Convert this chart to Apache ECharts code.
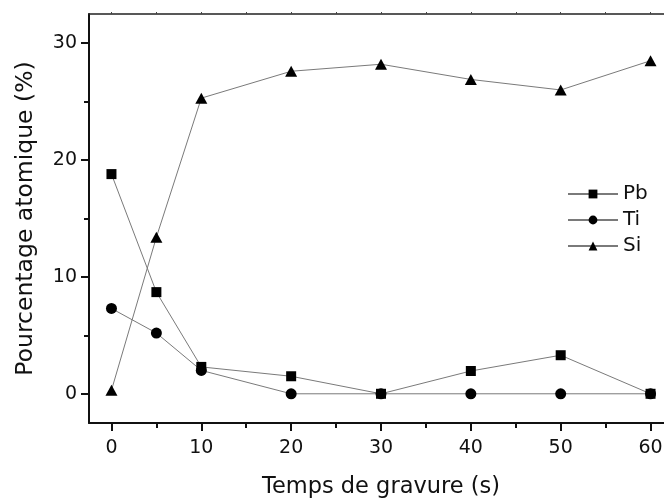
<!DOCTYPE html>
<html>
<head>
<meta charset="utf-8">
<script src="https://cdn.jsdelivr.net/npm/echarts@6/dist/echarts.min.js"></script>
<style>
html,body{margin:0;padding:0;background:#fff;}
#chart{width:664px;height:502px;}
</style>
</head>
<body>
<div id="chart"></div>
<script>
var times = [0, 5, 10, 20, 30, 40, 50, 60];
var pb = [18.8, 8.7, 2.3, 1.5, 0, 1.95, 3.3, 0];
var ti = [7.3, 5.2, 2.0, 0, 0, 0, 0, 0];
var si = [0.3, 13.4, 25.3, 27.6, 28.2, 26.9, 26.0, 28.5];
var xMajor = [0, 10, 20, 30, 40, 50, 60];
var xMinor = [5, 15, 25, 35, 45, 55];
var yMajor = [0, 10, 20, 30];
var yMinor = [5, 15, 25];
var seriesNames = ['Pb', 'Ti', 'Si'];
var xName = 'Temps de gravure (s)';
var yName = 'Pourcentage atomique (%)';

function pairs(vals) { return times.map(function (t, i) { return [t, vals[i]]; }); }

var FONT = '"DejaVu Sans", sans-serif';
var chart = echarts.init(document.getElementById('chart'));

var gridRect = { left: 89, width: 584, top: 14, height: 409, containLabel: false, outerBoundsMode: 'none' };
var baseX = { type: 'value', min: -2.5, max: 62.5, splitLine: { show: false } };
var baseY = { type: 'value', min: -2.5, max: 32.5, splitLine: { show: false } };

chart.setOption({
  animation: false,
  backgroundColor: '#fff',
  grid: [
    Object.assign({}, gridRect),
    Object.assign({}, gridRect)
  ],
  legend: {
    orient: 'vertical', left: 562, top: 179,
    itemWidth: 50, itemHeight: 11, itemGap: 6,
    textStyle: { fontFamily: FONT, fontSize: 20, color: '#111' },
    data: seriesNames
  },
  xAxis: [
    Object.assign({}, baseX, {
      gridIndex: 0, position: 'bottom',
      name: xName, nameLocation: 'middle', nameGap: 53,
      nameTextStyle: { fontFamily: FONT, fontSize: 22.5, color: '#111' },
      axisLine: { onZero: false, lineStyle: { color: '#111', width: 2 } },
      axisTick: { show: true, inside: false, length: 8, lineStyle: { width: 2, color: '#111' }, customValues: xMajor },
      axisLabel: { fontFamily: FONT, fontSize: 19, color: '#111', margin: 16, customValues: xMajor }
    }),
    Object.assign({}, baseX, {
      gridIndex: 1, position: 'bottom',
      axisLine: { show: false, onZero: false },
      axisTick: { show: true, inside: false, length: 5, lineStyle: { width: 2, color: '#111' }, customValues: xMinor },
      axisLabel: { show: false }
    }),
    Object.assign({}, baseX, {
      gridIndex: 1, position: 'top',
      axisLine: { onZero: false, lineStyle: { color: '#222', width: 1.5 } },
      axisTick: { show: true, inside: false, length: 2, lineStyle: { width: 1, color: '#444' }, customValues: xMajor.concat(xMinor) },
      axisLabel: { show: false }
    })
  ],
  yAxis: [
    Object.assign({}, baseY, {
      gridIndex: 0, position: 'left',
      name: yName, nameLocation: 'middle', nameGap: 51,
      nameTextStyle: { fontFamily: FONT, fontSize: 23.5, color: '#111' },
      axisLine: { show: true, onZero: false, lineStyle: { color: '#111', width: 2 } },
      axisTick: { show: true, inside: false, length: 8, lineStyle: { width: 2, color: '#111' }, customValues: yMajor },
      axisLabel: { fontFamily: FONT, fontSize: 19, color: '#111', margin: 12, customValues: yMajor }
    }),
    Object.assign({}, baseY, {
      gridIndex: 1, position: 'left',
      axisLine: { show: false, onZero: false },
      axisTick: { show: true, inside: false, length: 5, lineStyle: { width: 2, color: '#111' }, customValues: yMinor },
      axisLabel: { show: false }
    })
  ],
  series: [
    {
      name: 'Pb', type: 'line', data: pairs(pb), xAxisIndex: 0, yAxisIndex: 0,
      symbol: 'rect', symbolSize: 10,
      lineStyle: { color: '#7a7a7a', width: 1 },
      itemStyle: { color: '#000' }
    },
    {
      name: 'Ti', type: 'line', data: pairs(ti), xAxisIndex: 0, yAxisIndex: 0,
      symbol: 'circle', symbolSize: 11,
      lineStyle: { color: '#7a7a7a', width: 1 },
      itemStyle: { color: '#000' }
    },
    {
      name: 'Si', type: 'line', data: pairs(si), xAxisIndex: 0, yAxisIndex: 0,
      symbol: 'triangle', symbolSize: [12, 11],
      lineStyle: { color: '#7a7a7a', width: 1 },
      itemStyle: { color: '#000' }
    }
  ]
});
</script>
</body>
</html>
